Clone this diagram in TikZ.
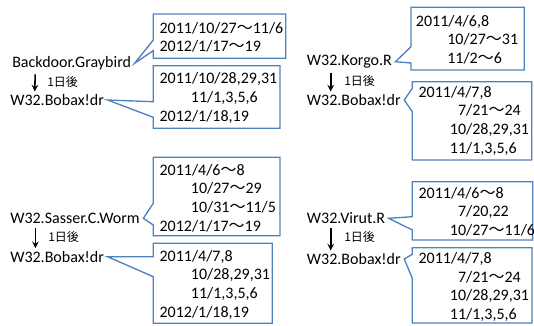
\documentclass[tikz,border=0pt]{standalone}
\usepackage{fontspec}
\setmainfont{Carlito}
\newfontfamily\jpfont{Noto Sans CJK JP}
\usepackage{xcolor}
\usepackage{tikz}
\usetikzlibrary{arrows, positioning, calc}
\definecolor{calloutblue}{RGB}{79,129,189}

\newcommand{\wave}{{\jpfont 〜}}
\newcommand{\ind}{\hspace*{23.5pt}}
% box corners (x1,y1,x2,y2), pointer base on the left side (top, bottom), tip node
\newcommand{\callout}[7]{%
  \draw[callline] (#1,#2) -- (#3,#2) -- (#3,#4) -- (#1,#4) -- (#1,#6)
    -- ([xshift=2.5pt]#7.east) -- (#1,#5) -- cycle;}

\tikzset{
  callline/.style={draw=calloutblue, line width=1pt, line join=miter},
  malware/.style={anchor=west, inner sep=0pt, font=\fontsize{12pt}{14pt}\selectfont},
  dates/.style={anchor=west, inner sep=0pt, align=left, font=\fontsize{12pt}{14pt}\selectfont},
  after/.style={anchor=west, inner sep=0pt, font=\jpfont\fontsize{9pt}{10pt}\selectfont},
  dayarrow/.style={-stealth, line width=1.2pt, shorten <=3pt, shorten >=2pt}
}

\begin{document}
\begin{tikzpicture}[x=0.75pt, y=-0.75pt]
    \useasboundingbox (0,0) rectangle (534,325);

    % left column
    \node[malware] (gray) at (12,63.3) {Backdoor.Graybird};
    \node[malware] (bobaxA) at (10,100) {W32.Bobax!dr};
    \draw[dayarrow] ([xshift=17.5pt]gray.south west) -- ([xshift=18.5pt]bobaxA.north west);
    \node[after] (dayA) at (47,81.7) {1日後};

    \node[malware] (sasser) at (10,218.3) {W32.Sasser.C.Worm};
    \node[malware] (bobaxC) at (10,256.7) {W32.Bobax!dr};
    \draw[dayarrow] ([xshift=19pt]sasser.south west) -- ([xshift=19pt]bobaxC.north west);
    \node[after] (dayC) at (48,236.7) {1日後};

    % right column
    \node[malware] (korgo) at (306.7,61.7) {W32.Korgo.R};
    \node[malware] (bobaxB) at (306.7,100) {W32.Bobax!dr};
    \draw[dayarrow] ([xshift=18pt]korgo.south west) -- ([xshift=18pt]bobaxB.north west);
    \node[after] (dayB) at (344,81) {1日後};

    \node[malware] (virut) at (306.7,218.3) {W32.Virut.R};
    \node[malware] (bobaxD) at (306.7,259) {W32.Bobax!dr};
    \draw[dayarrow] ([xshift=18pt]virut.south west) -- ([xshift=18pt]bobaxD.north west);
    \node[after] (dayD) at (344,236.7) {1日後};

    % callouts
    \callout{153.3}{14}{285.7}{58.3}{40}{50.6}{gray}
    \node[dates] (datesA1) at (159.3,37.3) {2011/10/27\wave 11/6\\2012/1/17\wave 19};

    \callout{153.3}{65.7}{280}{128.3}{101.7}{117.3}{bobaxA}
    \node[dates] (datesA2) at (159.3,97.8) {2011/10/28,29,31\\\ind 11/1,3,5,6\\2012/1/18,19};

    \callout{153.3}{157.3}{280}{235.7}{203.3}{225}{sasser}
    \node[dates] (datesA3) at (159.3,198) {2011/4/6\wave 8\\\ind 10/27\wave 29\\\ind 10/31\wave 11/5\\2012/1/17\wave 19};

    \callout{153.3}{243.3}{272.3}{323.3}{256.7}{276.7}{bobaxC}
    \node[dates] (datesA4) at (159.3,284.7) {2011/4/7,8\\\ind 10/28,29,31\\\ind 11/1,3,5,6\\2012/1/18,19};

    \callout{411}{7.3}{524.3}{70}{46.7}{63}{korgo}
    \node[dates] (datesB1) at (415.7,39.5) {2011/4/6,8\\\ind 10/27\wave 31\\\ind 11/2\wave 6};

    \callout{412.3}{81.7}{531.7}{160}{88.3}{111.7}{bobaxB}
    \node[dates] (datesB2) at (418.3,120.5) {2011/4/7,8\\\ind\phantom{1}7/21\wave 24\\\ind 10/28,29,31\\\ind 11/1,3,5,6};

    \callout{412.3}{181.7}{532.7}{240}{216.7}{230}{virut}
    \node[dates] (datesB3) at (418.3,211.7) {2011/4/6\wave 8\\\ind\phantom{1}7/20,22\\\ind 10/27\wave 11/6};

    \callout{412.3}{247.7}{532}{323}{254.3}{278.3}{bobaxD}
    \node[dates] (datesB4) at (418.3,287) {2011/4/7,8\\\ind\phantom{1}7/21\wave 24\\\ind 10/28,29,31\\\ind 11/1,3,5,6};
\end{tikzpicture}
\end{document}
